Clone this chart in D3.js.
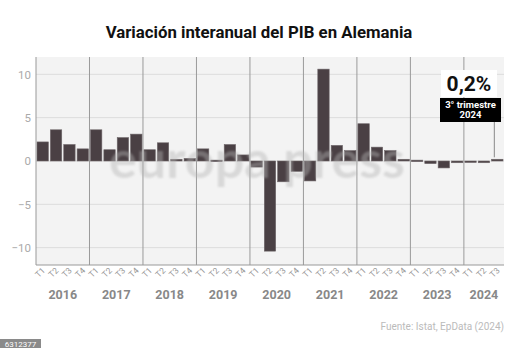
<!DOCTYPE html>
<html>
<head>
<meta charset="utf-8">
<script src="https://cdn.jsdelivr.net/npm/d3@7/dist/d3.min.js"></script>
<style>
  html, body { margin: 0; padding: 0; background: #fff; }
  svg { display: block; font-family: Roboto, "Noto Sans", sans-serif; }
</style>
</head>
<body>
<svg id="chart" width="520" height="348"></svg>
<script>
// Year-on-year GDP change in Germany, quarterly (%)
const years = ["2016", "2017", "2018", "2019", "2020", "2021", "2022", "2023", "2024"];
const quarterLabels = ["T1", "T2", "T3", "T4"];
const quartersPerYear = [4, 4, 4, 4, 4, 4, 4, 4, 3];
const growth = [
  2.2, 3.6, 1.9, 1.4,     // 2016
  3.6, 1.3, 2.7, 3.1,     // 2017
  1.3, 2.1, 0.2, 0.3,     // 2018
  1.4, 0.1, 1.9, 0.7,     // 2019
  -0.7, -10.4, -2.4, -1.2, // 2020
  -2.3, 10.6, 1.8, 1.2,   // 2021
  4.3, 1.6, 1.2, 0.2,     // 2022
  0.1, -0.3, -0.8, -0.2,  // 2023
  -0.1, -0.2, 0.2         // 2024
];
const yTicks = [-10, -5, 0, 5, 10];
const highlightLabel = "0,2%";
const highlightCaption = ["3° trimestre", "2024"];

// one category per quarter, e.g. "2016-T1"
const categories = [];
years.forEach((y, i) => {
  for (let q = 0; q < quartersPerYear[i]; q++) categories.push({ year: y, q: quarterLabels[q], key: y + "-" + quarterLabels[q] });
});
const data = categories.map((c, i) => ({ ...c, value: growth[i] }));

const svg = d3.select("#chart");
const W = 520, H = 348;
const m = { left: 36, right: 16, top: 57, bottom: 83 };
const plotW = W - m.left - m.right, plotH = H - m.top - m.bottom;

svg.append("text")
  .attr("x", 259).attr("y", 38)
  .attr("text-anchor", "middle")
  .attr("font-size", 16.8).attr("font-weight", 700).attr("fill", "#111")
  .text("Variación interanual del PIB en Alemania");

const x = d3.scaleBand().domain(data.map(d => d.key)).range([m.left, m.left + plotW]).paddingInner(0.15).paddingOuter(0.075);
const y = d3.scaleLinear().domain([-12, 12]).range([m.top + plotH, m.top]);

const g = svg.append("g");

// plot background
g.append("rect")
  .attr("x", m.left).attr("y", m.top).attr("width", plotW).attr("height", plotH)
  .attr("fill", "#f3f3f3");

// horizontal grid
g.append("g").selectAll("line").data(yTicks).join("line")
  .attr("x1", m.left).attr("x2", m.left + plotW)
  .attr("y1", d => y(d)).attr("y2", d => y(d))
  .attr("stroke", "#dcdcdc").attr("stroke-width", 1);

// y axis labels
const yAxis = d3.axisLeft(y).tickValues(yTicks).tickSize(0).tickPadding(5);
const ya = g.append("g").attr("transform", `translate(${m.left},0)`).call(yAxis);
ya.select(".domain").remove();
ya.selectAll("text").attr("font-size", 11.5).attr("fill", "#aaa").attr("font-family", "Roboto, sans-serif");

// year separators
const yearStarts = years.slice(1).map(yr => data.find(d => d.year === yr).key);
const step = x.step();
g.append("g").selectAll("line").data(yearStarts).join("line")
  .attr("x1", d => x(d) - step * x.paddingInner() / 2).attr("x2", d => x(d) - step * x.paddingInner() / 2)
  .attr("y1", m.top).attr("y2", m.top + plotH)
  .attr("stroke", "#9a9a9a").attr("stroke-width", 1);

// bars
g.append("g").selectAll("rect").data(data).join("rect")
  .attr("x", d => x(d.key))
  .attr("width", x.bandwidth())
  .attr("y", d => y(Math.max(0, d.value)))
  .attr("height", d => Math.max(1.5, Math.abs(y(d.value) - y(0))))
  .attr("fill", "#4a4044")
  .attr("stroke", "#6e6669").attr("stroke-width", 0.6);

// axis lines
g.append("line").attr("x1", m.left).attr("x2", m.left).attr("y1", m.top).attr("y2", m.top + plotH)
  .attr("stroke", "#999");
g.append("line").attr("x1", m.left).attr("x2", m.left + plotW).attr("y1", m.top + plotH).attr("y2", m.top + plotH)
  .attr("stroke", "#999");

// quarter labels
const xAxis = d3.axisBottom(x).tickSize(0).tickFormat(k => k.split("-")[1]);
const xa = g.append("g").attr("transform", `translate(0,${m.top + plotH})`).call(xAxis);
xa.select(".domain").remove();
xa.selectAll("text")
  .attr("font-size", 8.5).attr("fill", "#999").attr("font-family", "Roboto, sans-serif")
  .attr("text-anchor", "end")
  .attr("dy", 0).attr("y", 0)
  .attr("transform", "translate(3,6) rotate(-45)");

// year labels
g.append("g").selectAll("text").data(years).join("text")
  .attr("x", yr => {
    const ks = data.filter(d => d.year === yr);
    return (x(ks[0].key) + x(ks[ks.length - 1].key) + x.bandwidth()) / 2;
  })
  .attr("y", 299)
  .attr("text-anchor", "middle")
  .attr("font-size", 12.5).attr("font-weight", 700).attr("fill", "#888")
  .text(d => d);

// watermark
const defs = svg.append("defs");
defs.append("filter").attr("id", "soft").append("feGaussianBlur").attr("stdDeviation", 1.3);
svg.append("text")
  .attr("x", 257).attr("y", 178)
  .attr("text-anchor", "middle")
  .attr("font-size", 52).attr("font-weight", 700).attr("font-family", "Lato, sans-serif")
  .attr("fill", "#b4b4b4").attr("opacity", 0.42)
  .attr("filter", "url(#soft)")
  .text("europa press");

// highlighted last value
const last = data[data.length - 1];
const lx = x(last.key) + x.bandwidth() / 2 - 3;
svg.append("line")
  .attr("x1", lx).attr("x2", lx)
  .attr("y1", 121).attr("y2", y(last.value) - 2)
  .attr("stroke", "#888").attr("stroke-width", 1);
svg.append("rect").attr("x", 441).attr("y", 70).attr("width", 56).attr("height", 27).attr("fill", "#fff");
svg.append("text").attr("x", 469).attr("y", 91).attr("text-anchor", "middle")
  .attr("font-size", 21).attr("font-weight", 700).attr("fill", "#111")
  .text(highlightLabel);
svg.append("rect").attr("x", 440).attr("y", 98).attr("width", 61).attr("height", 24).attr("fill", "#000");
svg.append("g").selectAll("text").data(highlightCaption).join("text")
  .attr("x", 470.5).attr("y", (d, i) => 108 + i * 10)
  .attr("text-anchor", "middle")
  .attr("font-size", 9.5).attr("font-weight", 700).attr("fill", "#fff")
  .text(d => d);

// source
svg.append("text").attr("x", 504).attr("y", 330).attr("text-anchor", "end")
  .attr("font-size", 10).attr("fill", "#bbb")
  .text("Fuente: Istat, EpData (2024)");

// id badge
svg.append("rect").attr("x", 0).attr("y", 339).attr("width", 41).attr("height", 9).attr("fill", "#8a8a8a");
svg.append("text").attr("x", 20.5).attr("y", 347).attr("text-anchor", "middle")
  .attr("font-size", 8).attr("fill", "#fff")
  .text("6312377");
</script>
</body>
</html>
